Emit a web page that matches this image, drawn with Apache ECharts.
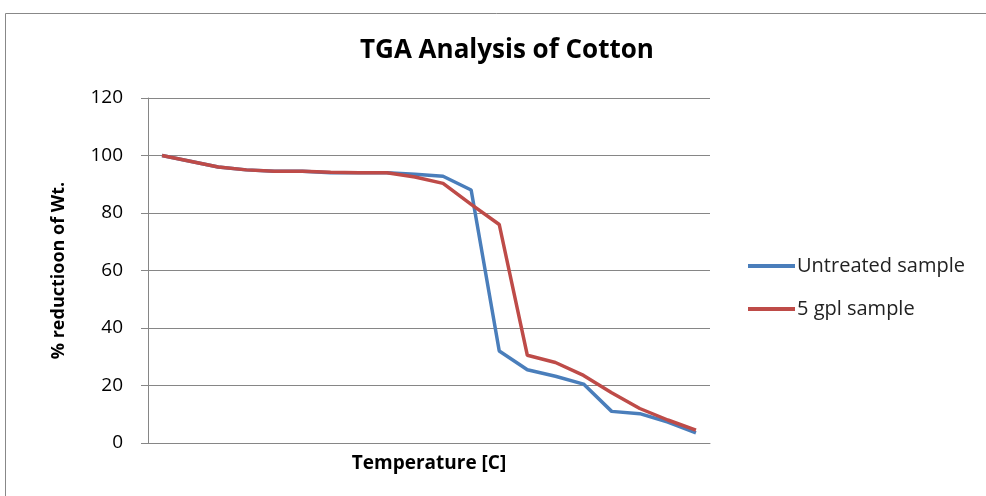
<!DOCTYPE html>
<html>
<head>
<meta charset="utf-8">
<script src="https://cdn.jsdelivr.net/npm/echarts@6/dist/echarts.min.js"></script>
<style>
  html, body { margin: 0; padding: 0; background: #fff; }
  #main { width: 986px; height: 496px; }
</style>
</head>
<body>
<div id="main"></div>
<script>
// 20 temperature readings, the x axis carries no labels
var temps = ['1','2','3','4','5','6','7','8','9','10','11','12','13','14','15','16','17','18','19','20'];
var untreated = [100, 98, 96, 95, 94.5, 94.5, 94, 94, 94, 93.5, 92.8, 88, 32, 25.5, 23.2, 20.5, 11, 10.2, 7.3, 3.5];
var gpl5 = [100, 98, 96, 95, 94.5, 94.5, 94.2, 94, 94, 92.5, 90.3, 83, 76, 30.5, 28, 23.5, 17.5, 12, 8, 4.5];
var yTicks = [0, 20, 40, 60, 80, 100, 120];

var font = '"Open Sans", "Liberation Sans", sans-serif';

var myChart = echarts.init(document.getElementById('main'));

var option = {
    animation: false,
    backgroundColor: '#fff',
    textStyle: { fontFamily: font },
    title: {
        text: 'TGA Analysis of Cotton',
        left: 502,
        top: 33,
        textAlign: 'center',
        textStyle: { fontFamily: font, fontSize: 26, fontWeight: 'bold', color: '#000' }
    },
    graphic: [{
        type: 'rect',
        shape: { x: 5.5, y: 13.5, width: 1000, height: 500 },
        style: { fill: 'none', stroke: '#888', lineWidth: 1 },
        silent: true
    }],
    legend: {
        orient: 'vertical',
        left: 748,
        top: 256,
        padding: 0,
        itemGap: 23,
        itemWidth: 47,
        itemHeight: 4,
        icon: 'rect',
        textStyle: { fontFamily: font, fontSize: 20, color: '#222', padding: [0, 0, 0, -3] },
        data: ['Untreated sample', '5 gpl sample']
    },
    grid: { left: 148, right: 276, top: 98, bottom: 53 },
    xAxis: {
        type: 'category',
        data: temps,
        boundaryGap: true,
        name: 'Temperature [C]',
        nameLocation: 'middle',
        nameGap: 11,
        nameTextStyle: { fontFamily: font, fontSize: 19, fontWeight: 'bold', color: '#000' },
        axisLine: { lineStyle: { color: '#868686' } },
        axisTick: { show: false },
        axisLabel: { show: false }
    },
    yAxis: {
        type: 'value',
        min: yTicks[0],
        max: yTicks[yTicks.length - 1],
        interval: 20,
        name: '% reductioon of Wt.',
        nameLocation: 'middle',
        nameGap: 80,
        nameTextStyle: { fontFamily: font, fontSize: 18, fontWeight: 'bold', color: '#000' },
        axisLine: { show: true, lineStyle: { color: '#868686' } },
        axisTick: { show: true, length: 7, lineStyle: { color: '#868686' } },
        axisLabel: { margin: 25, fontFamily: font, fontSize: 19, color: '#000' },
        splitLine: { lineStyle: { color: '#868686' } }
    },
    series: [{
        name: 'Untreated sample',
        type: 'line',
        data: untreated,
        symbol: 'none',
        color: '#4a7ebb',
        lineStyle: { width: 3.5, color: '#4a7ebb' },
        z: 2
    }, {
        name: '5 gpl sample',
        type: 'line',
        data: gpl5,
        symbol: 'none',
        color: '#be4b48',
        lineStyle: { width: 3.5, color: '#be4b48' },
        z: 3
    }]
};

myChart.setOption(option);
</script>
</body>
</html>
